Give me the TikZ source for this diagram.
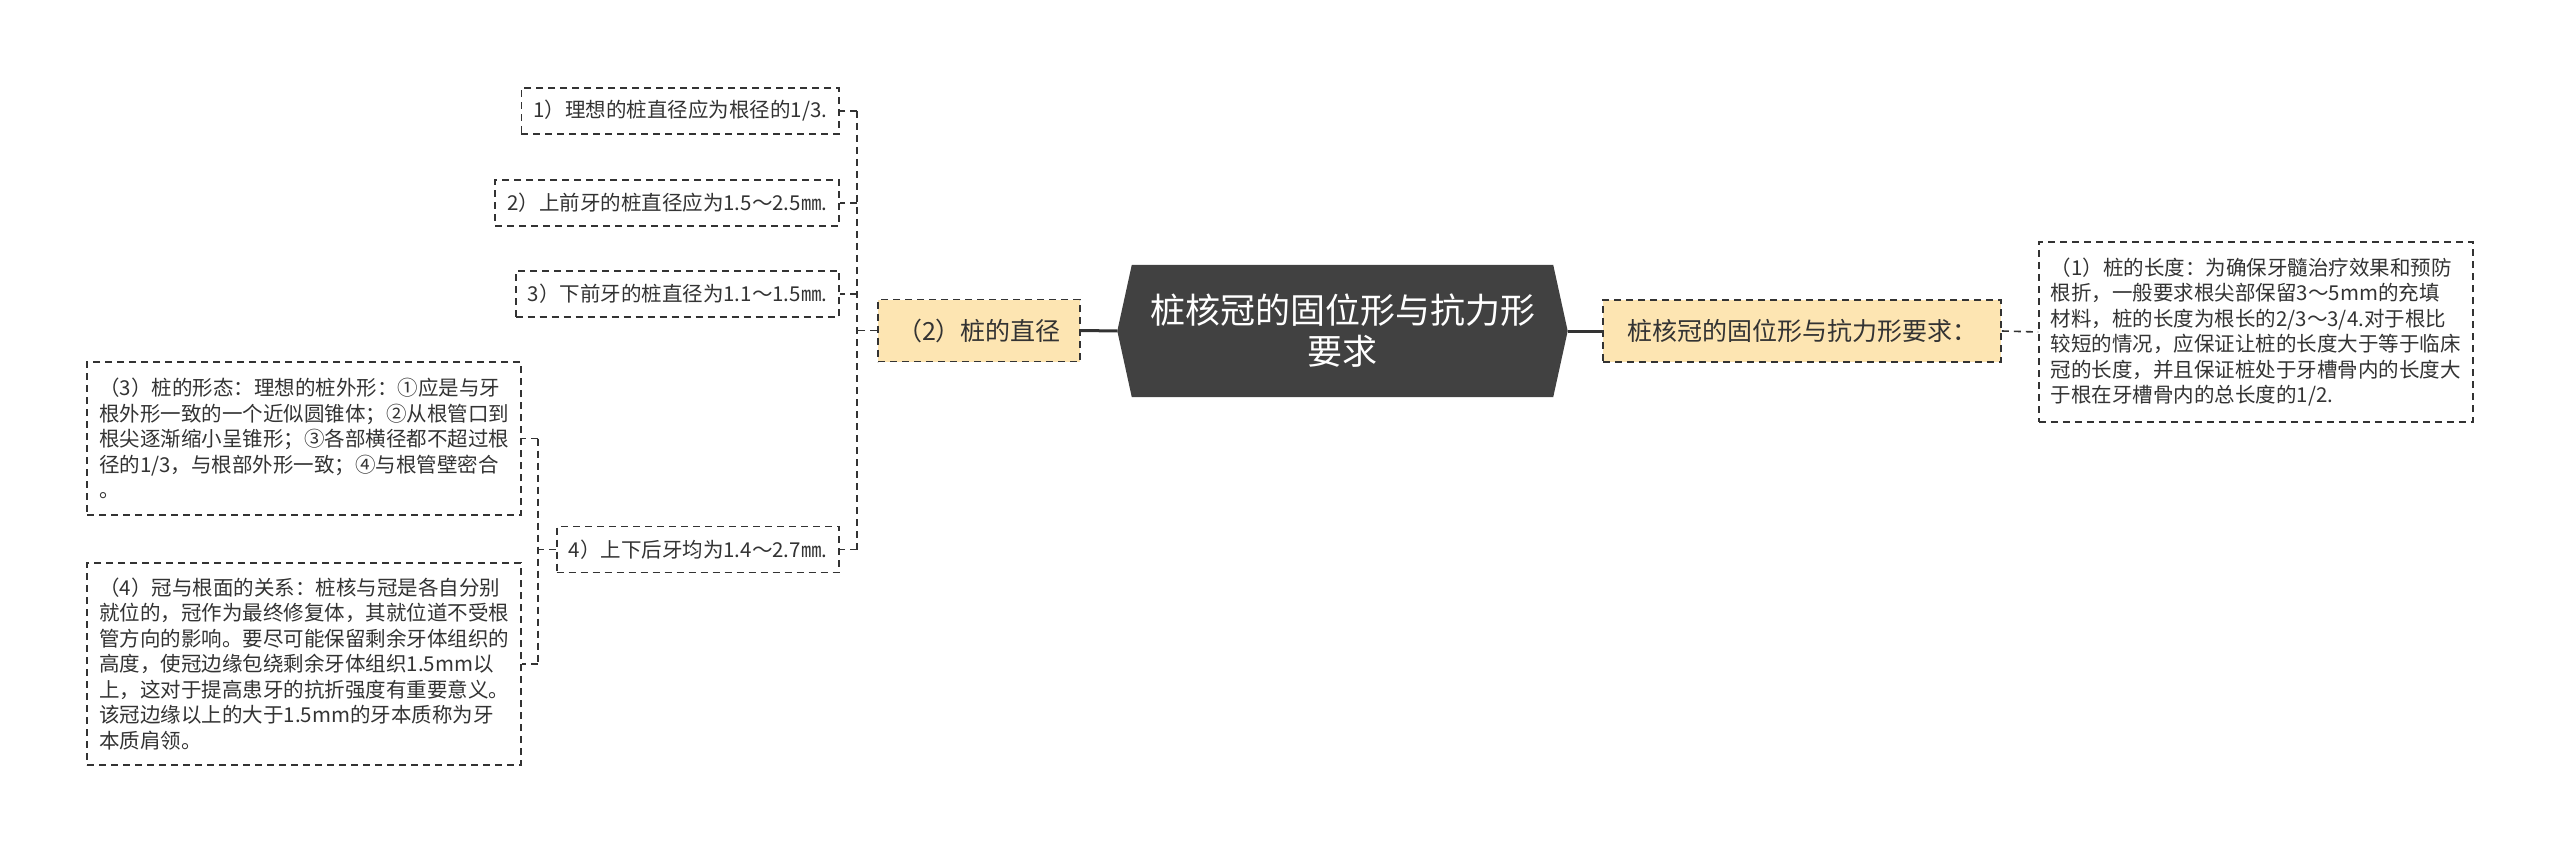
\documentclass[tikz,border=0pt]{standalone}
\usepackage{fontspec}
\setmainfont{Noto Sans CJK SC}
\usetikzlibrary{backgrounds}
\definecolor{ink}{HTML}{333333}
\definecolor{darkfill}{HTML}{414141}
\definecolor{peach}{HTML}{FDE5B2}
\begin{document}
\begin{tikzpicture}[x=1pt,y=-1pt,
  dashborder/.style={draw=ink, dash pattern=on 7pt off 5pt, line width=1.6pt},
  leaf/.style={dashborder, fill=white, text=ink,
    font=\fontsize{20.5pt}{25.5pt}\selectfont, inner xsep=12pt, inner ysep=0pt,
    align=left, minimum height=46pt},
  midbox/.style={dashborder, fill=peach, text=ink,
    font=\fontsize{25pt}{30pt}\selectfont, inner xsep=10pt, inner ysep=0pt,
    minimum height=62pt},
  central/.style={text=white, font=\fontsize{35pt}{41pt}\selectfont, align=center,
    minimum width=421pt, minimum height=132pt, inner sep=0pt},
  solidconn/.style={draw=ink, line width=3pt},
  dconn/.style={draw=ink, line width=1.6pt, dash pattern=on 7pt off 5pt}]
\useasboundingbox (0,0) rectangle (2560,853);

% central node
\node[central] (c) at (1342.5,331) {桩核冠的固位形与抗力形\\要求};
\coordinate (cl) at ([xshift=-14.5pt]c.west);
\coordinate (cr) at ([xshift=14.5pt]c.east);
\begin{scope}[on background layer]
  \fill[white] (0,0) rectangle (2560,853);
  \fill[darkfill] (c.north west) -- (c.north east) -- (cr) -- (c.south east)
    -- (c.south west) -- (cl) -- cycle;
\end{scope}

% level 1
\node[midbox, minimum width=202pt] (b2) at (979,330.5) {（2）桩的直径};
\node[midbox, minimum width=398pt] (r1) at (1802,331) {桩核冠的固位形与抗力形要求：};

% right leaf
\node[leaf, anchor=west, minimum height=180pt] (r2) at (2038,332)
  {（1）桩的长度：为确保牙髓治疗效果和预防\\
   根折，一般要求根尖部保留3～5mm的充填\\
   材料，桩的长度为根长的2/3～3/4.对于根比\\
   较短的情况，应保证让桩的长度大于等于临床\\
   冠的长度，并且保证桩处于牙槽骨内的长度大\\
   于根在牙槽骨内的总长度的1/2.};

% left leaves
\node[leaf, anchor=east] (l1) at (840,111) {1）理想的桩直径应为根径的1/3.};
\node[leaf, anchor=east] (l2) at (840,203) {2）上前牙的桩直径应为1.5～2.5㎜.};
\node[leaf, anchor=east] (l3) at (840,294) {3）下前牙的桩直径为1.1～1.5㎜.};
\node[leaf, anchor=east] (l4) at (840,549.5) {4）上下后牙均为1.4～2.7㎜.};

\node[leaf, anchor=east, minimum height=153pt] (m1) at (522,438.5)
  {（3）桩的形态：理想的桩外形：①应是与牙\\
   根外形一致的一个近似圆锥体；②从根管口到\\
   根尖逐渐缩小呈锥形；③各部横径都不超过根\\
   径的1/3，与根部外形一致；④与根管壁密合\\
   。};
\node[leaf, anchor=east, minimum height=202pt] (m2) at (522,664)
  {（4）冠与根面的关系：桩核与冠是各自分别\\
   就位的，冠作为最终修复体，其就位道不受根\\
   管方向的影响。要尽可能保留剩余牙体组织的\\
   高度，使冠边缘包绕剩余牙体组织1.5mm以\\
   上，这对于提高患牙的抗折强度有重要意义。\\
   该冠边缘以上的大于1.5mm的牙本质称为牙\\
   本质肩领。};

% connectors
\draw[solidconn] (b2.east) -- (cl);
\draw[solidconn] (cr) -- (r1.west);
\draw[dconn] (r1.east) -- (r2.west);

\coordinate (j1) at ([xshift=-20pt]b2.west);
\draw[dconn] (b2.west) -- (j1);
\draw[dconn] (j1 |- l1.east) -- (j1 |- l4.east);
\draw[dconn] (j1 |- l1.east) -- (l1.east);
\draw[dconn] (j1 |- l2.east) -- (l2.east);
\draw[dconn] (j1 |- l3.east) -- (l3.east);
\draw[dconn] (j1 |- l4.east) -- (l4.east);

\coordinate (j2) at ([xshift=-18pt]l4.west);
\draw[dconn] (l4.west) -- (j2);
\draw[dconn] (j2 |- m1.east) -- (j2 |- m2.east);
\draw[dconn] (j2 |- m1.east) -- (m1.east);
\draw[dconn] (j2 |- m2.east) -- (m2.east);
\end{tikzpicture}
\end{document}
